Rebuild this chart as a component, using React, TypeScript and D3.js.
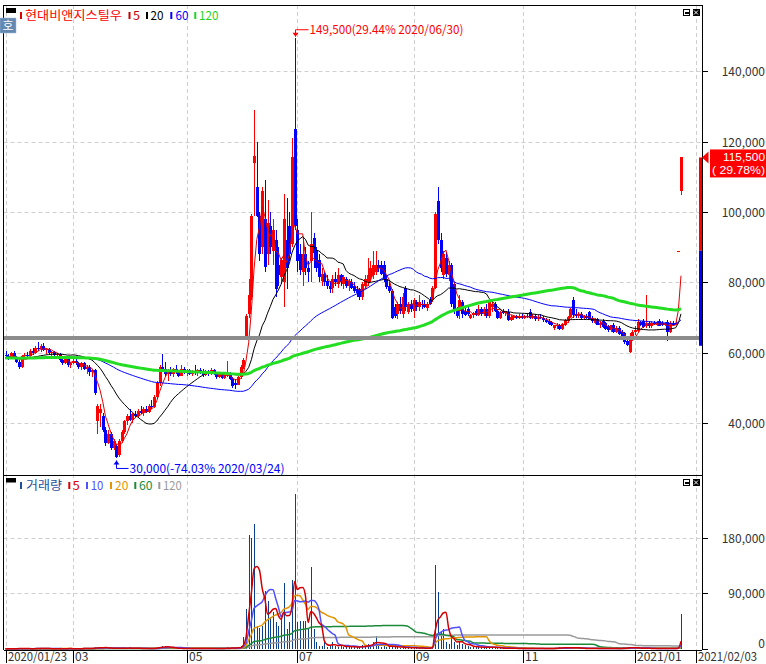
import React, { useEffect, useRef } from "react";
import * as d3 from "d3";

// daily candles 2020/01/23 .. 2021/02/03, prices in thousand won
const opens = [
  59.5, 59.0, 58.5, 60.0, 58.8, 57.5, 56.0, 59.0, 59.5, 59.2,
  60.5, 60.0, 61.5, 61.0, 62.0, 60.8, 61.2, 60.0, 60.2, 59.3,
  59.8, 58.0, 57.0, 58.2, 56.5, 57.2, 57.8, 57.0, 56.0, 57.0,
  55.5, 56.0, 54.5, 55.0, 40.5, 43.0, 42.0, 38.0, 34.5, 37.0,
  33.0, 33.5, 31.0, 35.0, 37.5, 40.5, 42.0, 41.0, 42.5, 42.0,
  43.5, 43.0, 44.0, 43.2, 45.0, 44.5, 47.5, 51.5, 56.0, 55.5,
  54.0, 55.0, 54.0, 55.3, 54.5, 53.5, 55.5, 54.3, 55.0, 54.0,
  54.8, 54.2, 55.2, 54.5, 53.6, 54.6, 54.0, 55.2, 54.0, 53.0,
  54.2, 52.8, 53.8, 54.2, 52.6, 51.5, 51.0, 53.0, 56.0, 64.5,
  71.0, 76.0, 114.0, 107.0, 99.0, 90.0, 98.0, 88.0, 96.0, 89.0,
  92.0, 85.0, 81.5, 80.0, 92.0, 96.0, 91.0, 123.5, 95.0, 88.0,
  83.0, 88.0, 84.0, 86.0, 92.5, 89.0, 86.5, 80.5, 82.5, 80.5,
  79.0, 78.5, 81.0, 79.5, 82.0, 79.5, 81.0, 79.0, 80.0, 79.0,
  78.0, 78.0, 76.0, 79.0, 80.0, 81.5, 82.0, 83.0, 85.0, 85.0,
  85.0, 81.0, 79.0, 77.5, 73.0, 71.0, 74.0, 71.0, 78.5, 71.5,
  74.0, 72.0, 74.5, 73.0, 74.0, 74.0, 72.8, 75.0, 75.0, 78.5,
  103.0, 92.0, 82.0, 87.0, 82.0, 85.0, 79.5, 72.0, 72.0, 74.5,
  72.0, 72.5, 70.0, 70.8, 72.0, 70.8, 72.5, 71.0, 72.5, 70.6,
  73.0, 74.0, 72.0, 70.0, 72.0, 71.3, 71.5, 69.3, 70.0, 70.5,
  69.8, 70.5, 70.0, 70.5, 71.5, 69.8, 70.6, 69.5, 70.3, 70.0,
  69.2, 69.0, 68.5, 67.0, 67.5, 68.0, 66.8, 68.0, 69.0, 70.3,
  75.0, 71.0, 70.5, 71.0, 69.8, 70.5, 71.5, 70.0, 68.5, 69.5,
  68.0, 69.0, 68.5, 67.5, 66.5, 68.0, 66.0, 67.0, 66.0, 65.5,
  63.5, 60.2, 64.0, 66.0, 66.3, 68.7, 69.0, 67.5, 68.5, 67.5,
  68.5, 68.0, 69.0, 68.5, 67.8, 68.7, 66.0, 68.5, 68.0, 89.0,
  106.0,
];
const highs = [
  60.5, 59.8, 60.3, 60.5, 59.2, 58.0, 59.5, 60.0, 60.2, 61.0,
  61.5, 62.0, 63.0, 62.5, 62.8, 61.5, 61.5, 60.5, 60.5, 60.0,
  60.0, 58.5, 58.8, 58.8, 57.5, 58.2, 58.5, 57.5, 57.5, 57.5,
  56.5, 56.5, 55.5, 55.5, 45.5, 45.5, 43.0, 39.0, 38.0, 37.5,
  35.5, 34.0, 35.5, 38.0, 41.0, 42.5, 44.0, 43.0, 43.5, 44.0,
  45.0, 44.5, 45.0, 45.5, 46.5, 48.0, 52.0, 56.5, 59.7, 57.5,
  55.5, 56.0, 55.8, 56.5, 55.0, 56.5, 56.0, 55.5, 55.5, 55.2,
  56.5, 55.5, 55.8, 55.3, 55.0, 55.2, 55.6, 55.5, 54.5, 54.5,
  54.6, 54.3, 57.8, 54.5, 53.0, 52.5, 53.5, 56.5, 58.5, 71.0,
  81.0, 99.5, 129.0, 120.0, 100.0, 107.0, 109.0, 103.5, 100.0, 98.0,
  95.0, 90.0, 87.0, 105.0, 104.0, 100.0, 121.0, 149.5, 98.0, 91.0,
  93.0, 90.0, 86.0, 100.0, 94.0, 90.0, 88.0, 84.0, 83.0, 82.0,
  80.5, 82.0, 83.0, 84.0, 82.5, 82.0, 81.5, 81.0, 81.0, 80.0,
  79.0, 78.5, 80.0, 82.0, 87.0, 86.0, 89.0, 89.0, 86.5, 86.0,
  86.0, 82.0, 80.0, 78.0, 74.0, 74.5, 76.0, 77.0, 79.0, 74.5,
  75.0, 75.5, 75.0, 76.5, 75.0, 75.0, 74.5, 76.0, 79.0, 100.0,
  107.0, 94.0, 89.0, 88.5, 86.0, 85.5, 80.0, 73.0, 76.5, 75.0,
  73.0, 73.5, 71.0, 71.5, 72.5, 73.5, 73.0, 73.0, 74.0, 75.0,
  75.0, 74.5, 72.5, 72.0, 72.5, 72.0, 72.5, 70.8, 70.8, 70.8,
  71.0, 71.0, 70.8, 71.0, 72.5, 71.0, 71.0, 70.8, 71.0, 70.5,
  69.8, 69.5, 69.0, 68.0, 68.5, 68.3, 68.5, 69.5, 70.5, 72.8,
  76.0, 72.5, 71.5, 71.5, 70.8, 71.0, 72.0, 70.5, 69.8, 70.0,
  69.0, 69.5, 68.8, 68.0, 68.0, 68.5, 67.5, 67.5, 66.5, 66.0,
  64.3, 65.5, 66.5, 67.5, 69.5, 69.0, 69.5, 76.3, 69.0, 69.0,
  69.0, 69.0, 69.5, 69.0, 68.8, 69.3, 69.0, 69.0, 69.0, 89.0,
  115.5,
];
const lows = [
  58.8, 58.0, 58.3, 58.5, 57.0, 55.5, 55.8, 58.2, 58.8, 59.0,
  59.5, 59.8, 60.5, 60.2, 60.5, 59.8, 59.5, 59.2, 59.0, 58.5,
  57.5, 56.5, 56.8, 56.0, 55.8, 56.8, 56.5, 55.5, 55.0, 55.0,
  54.0, 53.5, 53.0, 48.0, 37.0, 39.0, 37.5, 33.5, 34.0, 32.5,
  32.5, 30.0, 30.5, 34.5, 37.0, 39.5, 40.5, 40.0, 41.5, 41.5,
  42.5, 42.0, 42.8, 43.0, 44.0, 44.3, 47.0, 50.5, 54.5, 53.0,
  52.0, 53.5, 53.0, 54.0, 53.0, 53.3, 54.0, 53.5, 53.8, 53.5,
  53.8, 53.5, 54.0, 53.2, 53.3, 53.5, 53.8, 53.8, 52.5, 52.8,
  52.5, 52.5, 53.2, 52.3, 50.0, 49.8, 50.8, 52.5, 55.5, 64.0,
  70.0, 75.0, 99.0, 98.5, 86.0, 88.0, 83.0, 85.0, 88.0, 85.0,
  76.0, 79.0, 79.5, 73.0, 78.0, 86.0, 90.0, 95.0, 83.0, 82.0,
  79.0, 82.0, 80.0, 80.0, 84.0, 83.0, 80.0, 79.0, 79.0, 78.0,
  77.0, 77.0, 79.0, 78.5, 79.0, 78.0, 78.5, 77.5, 78.0, 77.0,
  76.0, 75.0, 75.0, 78.0, 79.0, 80.0, 81.0, 82.0, 83.0, 82.0,
  80.0, 78.0, 77.0, 69.5, 70.0, 69.5, 71.0, 70.0, 72.0, 71.0,
  71.5, 70.0, 72.0, 72.0, 72.5, 72.8, 72.0, 73.5, 74.5, 78.0,
  91.0, 83.0, 81.0, 81.5, 80.5, 73.0, 71.0, 70.0, 69.5, 70.0,
  70.5, 70.5, 69.5, 70.0, 70.5, 70.5, 70.5, 70.5, 70.0, 70.0,
  71.5, 71.5, 69.5, 69.5, 71.0, 70.5, 69.0, 69.0, 69.3, 69.5,
  69.5, 69.5, 69.5, 69.8, 69.5, 69.5, 69.0, 69.0, 69.5, 68.8,
  68.5, 68.0, 67.5, 66.5, 66.8, 66.5, 66.5, 67.5, 68.5, 70.0,
  70.0, 70.0, 69.8, 69.5, 69.5, 69.5, 69.5, 68.5, 68.3, 67.8,
  67.0, 67.0, 66.5, 66.0, 66.0, 65.5, 65.5, 65.0, 64.5, 62.5,
  61.8, 60.0, 63.5, 65.0, 66.0, 67.5, 67.0, 67.0, 67.0, 67.0,
  67.8, 67.5, 67.5, 67.5, 67.5, 63.5, 65.5, 67.5, 67.8, 89.0,
  104.7,
];
const closes = [
  59.0, 58.5, 60.0, 58.8, 57.5, 56.0, 59.0, 59.5, 59.2, 60.5,
  60.0, 61.5, 61.0, 62.0, 60.8, 61.2, 60.0, 60.2, 59.3, 59.8,
  58.0, 57.0, 58.2, 56.5, 57.2, 57.8, 57.0, 56.0, 57.0, 55.5,
  56.0, 54.5, 55.0, 48.5, 45.0, 44.0, 38.0, 34.5, 37.0, 33.0,
  35.0, 30.5, 35.0, 37.5, 40.5, 42.0, 41.0, 42.5, 42.0, 43.5,
  43.0, 44.0, 43.2, 45.0, 44.5, 47.5, 51.5, 56.0, 55.5, 54.0,
  55.0, 54.0, 55.3, 54.5, 53.5, 55.5, 54.3, 55.0, 54.0, 54.8,
  54.2, 55.2, 54.5, 53.6, 54.6, 54.0, 55.2, 54.0, 53.0, 54.2,
  52.8, 53.8, 54.2, 52.6, 50.5, 51.0, 53.2, 56.0, 58.0, 70.5,
  76.5, 99.0, 116.0, 99.0, 88.0, 106.0, 84.5, 97.0, 90.0, 95.0,
  78.0, 82.0, 86.5, 98.0, 84.0, 88.0, 115.5, 96.0, 86.0, 83.5,
  88.0, 84.0, 83.0, 91.0, 88.3, 84.0, 81.5, 82.5, 80.0, 79.0,
  78.0, 81.0, 80.0, 82.0, 80.0, 81.5, 79.0, 80.5, 78.5, 77.5,
  77.0, 75.8, 79.5, 81.0, 82.0, 84.0, 85.0, 85.0, 84.0, 82.5,
  81.0, 78.6, 77.5, 70.0, 70.5, 74.0, 72.0, 76.0, 73.0, 74.0,
  72.5, 75.0, 73.0, 74.5, 73.5, 73.0, 74.0, 74.0, 78.5, 99.5,
  92.0, 84.0, 88.0, 82.5, 85.0, 74.0, 72.0, 70.5, 75.0, 71.0,
  70.8, 71.0, 70.8, 71.3, 70.8, 72.5, 71.0, 72.5, 70.5, 74.4,
  74.0, 72.0, 70.0, 71.5, 71.3, 71.8, 69.3, 70.2, 70.5, 69.8,
  70.5, 70.0, 70.5, 70.2, 70.0, 70.6, 69.5, 70.3, 69.8, 69.2,
  68.8, 68.3, 67.8, 67.8, 68.0, 66.8, 68.3, 69.2, 70.3, 72.5,
  70.8, 70.5, 71.0, 69.8, 70.5, 69.8, 69.7, 69.0, 69.5, 68.0,
  68.5, 67.3, 66.8, 66.5, 67.8, 66.0, 67.0, 65.3, 64.8, 63.0,
  62.2, 64.0, 66.0, 66.5, 68.7, 68.0, 67.3, 68.5, 67.5, 68.5,
  68.2, 68.8, 67.7, 67.8, 68.5, 66.0, 68.5, 68.0, 68.5, 89.0,
  115.5,
];
// thousand shares
const volumes = [
  0.4, 0.6, 0.3, 0.5, 0.8, 1.0, 0.7, 0.5, 0.4, 0.6,
  0.5, 0.9, 1.2, 0.8, 0.6, 0.5, 0.4, 0.3, 0.5, 0.4,
  0.6, 0.7, 0.5, 0.8, 0.6, 0.4, 0.5, 0.7, 0.6, 0.9,
  0.8, 1.0, 0.7, 2.5, 3.5, 2.0, 1.5, 1.8, 1.2, 1.4,
  1.0, 1.6, 1.3, 1.0, 1.5, 1.2, 2.2, 0.9, 0.7, 0.8,
  0.6, 0.9, 0.5, 0.8, 0.7, 1.4, 2.5, 3.8, 5.0, 4.2,
  2.0, 1.5, 1.0, 0.8, 1.2, 0.9, 0.7, 0.6, 0.8, 0.5,
  0.9, 0.6, 0.5, 0.7, 0.6, 0.8, 0.5, 0.6, 0.7, 0.9,
  0.6, 1.0, 3.0, 1.2, 1.5, 1.8, 2.0, 4.5, 18.8, 64.8,
  183.7, 179.0, 201.5, 37.8, 33.4, 37.8, 94.0, 78.3, 51.2, 59.4,
  43.2, 37.8, 48.6, 107.0, 32.4, 44.3, 110.7, 250.0, 43.2, 45.9,
  45.9, 45.9, 32.4, 131.8, 32.4, 11.9, 5.4, 5.4, 10.8, 2.7,
  5.4, 10.8, 5.4, 2.7, 5.4, 4.0, 3.0, 4.5, 2.5, 3.5,
  3.0, 2.5, 6.0, 5.0, 8.0, 6.0, 10.8, 21.6, 6.0, 4.0,
  5.0, 3.5, 3.0, 6.5, 3.0, 2.5, 2.0, 3.0, 2.5, 2.0,
  1.5, 2.0, 1.5, 1.5, 1.2, 1.0, 1.2, 1.5, 4.5, 135.0,
  91.8, 27.0, 32.4, 10.8, 8.1, 21.6, 10.8, 6.0, 12.0, 8.0,
  6.0, 5.0, 3.0, 2.5, 4.0, 3.5, 2.5, 2.0, 3.0, 4.0,
  2.5, 2.0, 1.5, 1.2, 1.0, 1.2, 1.5, 1.0, 0.8, 0.9,
  0.7, 0.8, 0.6, 0.9, 1.0, 0.7, 0.8, 0.6, 0.7, 0.5,
  0.8, 0.6, 0.9, 1.5, 2.2, 2.5, 1.8, 1.2, 1.5, 2.5,
  3.5, 1.2, 0.8, 0.7, 0.6, 0.8, 1.0, 0.7, 0.6, 0.5,
  0.7, 0.8, 0.6, 0.5, 0.7, 0.9, 0.6, 0.8, 1.0, 2.0,
  2.5, 3.0, 1.5, 1.2, 1.0, 0.8, 0.7, 2.0, 0.8, 0.6,
  0.7, 0.5, 0.6, 0.8, 0.7, 1.5, 1.0, 0.8, 0.6, 3.0,
  56.7,
];

// levels before the first visible day (at the left edge)
const priorClose = 58.5;
const priorVolume = 0.5;

const priceMaPeriods = [5, 20, 60, 120];
const priceMaColors = ["#e00000", "#000000", "#0000ff", "#22dd22"];
const priceMaWidths = [1, 1, 1, 3];
const volMaPeriods = [5, 10, 20, 60, 120];
const volMaColors = ["#d40000", "#5050ff", "#e39400", "#1a8a3a", "#9a9a9a"];

const priceTicks = [40, 60, 80, 100, 120, 140];
const volumeTicks = [0, 90, 180];
const dateTicks = [
  { idx: 0, label: "2020/01/23" },
  { idx: 25, label: "03" },
  { idx: 67, label: "05" },
  { idx: 108, label: "07" },
  { idx: 151, label: "09" },
  { idx: 191.5, label: "11" },
  { idx: 233, label: "2021/01" },
  { idx: 255.5, label: "2021/02/03" },
];

const baseLevel = 64.2;
const maxMark = { idx: 107, value: 149.5, text: "149,500(29.44% 2020/06/30)" };
const minMark = { idx: 41, value: 30.0, text: "30,000(-74.03% 2020/03/24)" };
const lastPrice = { value: 115.5, text: "115,500", change: "( 29.78%)" };
const rangeBar = [115.5, 89.0, 62.0];

const priceLegend = [
  { label: "5", color: "#c80000", mx: 128.5, tx: 133, tl: 7 },
  { label: "20", color: "#000000", mx: 146, tx: 150.5, tl: 13 },
  { label: "60", color: "#0000ff", mx: 170.3, tx: 175.5, tl: 13 },
  { label: "120", color: "#1ed41e", mx: 194.3, tx: 199, tl: 19.5 },
];
const volumeLegend = [
  { label: "5", color: "#d40000", mx: 68.3, tx: 72.7, tl: 7 },
  { label: "10", color: "#5050ff", mx: 86, tx: 90.7, tl: 12.6 },
  { label: "20", color: "#e39400", mx: 110, tx: 115, tl: 13.3 },
  { label: "60", color: "#1a8a3a", mx: 134.3, tx: 139, tl: 13.6 },
  { label: "120", color: "#9a9a9a", mx: 158.3, tx: 163, tl: 18.7 },
];

const FONT = "'Noto Sans CJK KR', 'DejaVu Sans', sans-serif";
const NUM_FONT = "'Liberation Sans', 'DejaVu Sans', sans-serif";

function movingAverage(values: number[], period: number, prior: number) {
  return values.map((_, i) => {
    let sum = 0;
    for (let k = i - period + 1; k <= i; k++) sum += k < 0 ? prior : values[k];
    return sum / period;
  });
}

function StockChart() {
  // eslint-disable-next-line @typescript-eslint/no-explicit-any
  const svgRef: any = useRef();

  useEffect(() => {
    const svg = d3.select(svgRef.current);
    svg.selectAll("*").remove();

    const left = 3.5, right = 702, top = 5, mid = 475, bottom = 650;
    const x = d3.scaleLinear().domain([0, 250]).range([5.5, 681]);
    const yP = d3.scaleLinear().domain([25.3, 158.8]).range([475, 5]);
    const yV = d3.scaleLinear().domain([0, 281]).range([649, 475]);
    const fmt = d3.format(",");

    const defs = svg.append("defs");
    defs.append("clipPath").attr("id", "clipTop")
      .append("rect").attr("x", left).attr("y", top).attr("width", right - left).attr("height", mid - top);
    defs.append("clipPath").attr("id", "clipBot")
      .append("rect").attr("x", left).attr("y", mid).attr("width", right - left).attr("height", bottom - mid);

    svg.append("rect").attr("width", 766).attr("height", 664).attr("fill", "#fff");

    // grid
    const grid = svg.append("g").attr("stroke", "#cfcfcf").attr("stroke-dasharray", "4,3").attr("stroke-width", 1);
    dateTicks.forEach(t => {
      const gx = Math.round(x(t.idx)) + 0.5;
      grid.append("line").attr("x1", gx).attr("x2", gx).attr("y1", top).attr("y2", bottom);
    });
    priceTicks.forEach(v => {
      const gy = Math.round(yP(v)) + 0.5;
      grid.append("line").attr("x1", left).attr("x2", right).attr("y1", gy).attr("y2", gy);
    });
    volumeTicks.filter(v => v > 0).forEach(v => {
      const gy = Math.round(yV(v)) + 0.5;
      grid.append("line").attr("x1", left).attr("x2", right).attr("y1", gy).attr("y2", gy);
    });

    // candles
    const upper = svg.append("g").attr("clip-path", "url(#clipTop)");
    const candles = upper.append("g").attr("shape-rendering", "crispEdges");
    closes.forEach((c, i) => {
      const o = opens[i];
      const color = c >= o ? "#ff0000" : "#0000ff";
      const cx = Math.round(x(i));
      candles.append("rect")
        .attr("x", cx).attr("width", 1)
        .attr("y", yP(highs[i])).attr("height", Math.max(1, yP(lows[i]) - yP(highs[i])))
        .attr("fill", color);
      const y0 = yP(Math.max(o, c));
      const y1 = yP(Math.min(o, c));
      candles.append("rect")
        .attr("x", cx - 1).attr("width", 3)
        .attr("y", y0).attr("height", Math.max(1, y1 - y0))
        .attr("fill", color);
    });

    // moving averages
    priceMaPeriods.forEach((p, k) => {
      const ma = movingAverage(closes, p, priorClose);
      const line = d3.line<number>().x((_, i) => x(i)).y(d => yP(d));
      upper.append("path").attr("d", line(ma))
        .attr("fill", "none").attr("stroke", priceMaColors[k]).attr("stroke-width", priceMaWidths[k])
        .attr("stroke-linejoin", "round");
    });

    // base line
    upper.append("line").attr("x1", 0).attr("x2", right).attr("y1", yP(baseLevel)).attr("y2", yP(baseLevel))
      .attr("stroke", "#8c8c8c").attr("stroke-width", 4);

    // volume
    const lower = svg.append("g").attr("clip-path", "url(#clipBot)");
    const vbars = lower.append("g").attr("shape-rendering", "crispEdges");
    volumes.forEach((v, i) => {
      const h = yV(0) - yV(v);
      if (h < 0.5) return;
      vbars.append("rect").attr("x", Math.round(x(i))).attr("width", 1)
        .attr("y", yV(v)).attr("height", h).attr("fill", "#0b3f8f");
    });
    volMaPeriods.slice().reverse().forEach(p => {
      const k = volMaPeriods.indexOf(p);
      const ma = movingAverage(volumes, p, priorVolume);
      const line = d3.line<number>().x((_, i) => x(i)).y(d => yV(d)).curve(d3.curveMonotoneX);
      lower.append("path").attr("d", line(ma))
        .attr("fill", "none").attr("stroke", volMaColors[k]).attr("stroke-width", 1.5);
    });

    // frame
    const frame = svg.append("g").attr("stroke", "#000").attr("stroke-width", 1).attr("shape-rendering", "crispEdges");
    frame.append("line").attr("x1", left).attr("x2", right).attr("y1", top).attr("y2", top);
    frame.append("line").attr("x1", left).attr("x2", right).attr("y1", mid).attr("y2", mid);
    frame.append("line").attr("x1", left).attr("x2", right).attr("y1", bottom).attr("y2", bottom);
    frame.append("line").attr("x1", left).attr("x2", left).attr("y1", top).attr("y2", bottom);
    frame.append("line").attr("x1", right).attr("x2", right).attr("y1", top).attr("y2", bottom);

    // right axis
    const axisText = svg.append("g").attr("font-family", FONT).attr("font-size", 12).attr("fill", "#333")
      .attr("text-anchor", "end");
    priceTicks.forEach(v => {
      const ty = Math.round(yP(v)) + 0.5;
      frame.append("line").attr("x1", right).attr("x2", right + 6).attr("y1", ty).attr("y2", ty);
      axisText.append("text").attr("x", 765).attr("y", ty).attr("dy", "0.36em").text(fmt(v * 1000));
    });
    volumeTicks.forEach(v => {
      const ty = Math.round(yV(v)) + 0.5;
      frame.append("line").attr("x1", right).attr("x2", right + 6).attr("y1", ty).attr("y2", ty);
      axisText.append("text").attr("x", 765).attr("y", Math.min(ty, 644)).attr("dy", "0.36em").text(fmt(v * 1000));
    });

    // date axis
    const dateText = svg.append("g").attr("font-family", FONT).attr("font-size", 12).attr("fill", "#333");
    dateTicks.forEach(t => {
      const tx = Math.round(x(t.idx)) + 0.5;
      frame.append("line").attr("x1", tx).attr("x2", tx).attr("y1", bottom).attr("y2", 663);
      const txt = dateText.append("text").attr("x", tx + 1.5).attr("y", 661).text(t.label);
      if (t.label.length === 10) txt.attr("textLength", 59).attr("lengthAdjust", "spacingAndGlyphs");
    });

    // range bar at right edge
    svg.append("rect").attr("x", 699).attr("width", 3).attr("y", yP(rangeBar[0]))
      .attr("height", yP(rangeBar[1]) - yP(rangeBar[0])).attr("fill", "#ff0000");
    svg.append("rect").attr("x", 699).attr("width", 3).attr("y", yP(rangeBar[1]))
      .attr("height", yP(rangeBar[2]) - yP(rangeBar[1])).attr("fill", "#0000ff");

    // last price label
    const ly = yP(lastPrice.value);
    svg.append("path").attr("d", `M${right},${ly} L${right + 6.5},${ly - 6} L${right + 6.5},${ly + 6} Z`).attr("fill", "#ff0000");
    svg.append("rect").attr("x", 710).attr("y", ly - 8).attr("width", 56).attr("height", 28).attr("fill", "#ff0000");
    svg.append("text").attr("x", 765).attr("y", ly + 3.5).attr("text-anchor", "end").attr("font-family", NUM_FONT)
      .attr("font-size", 11.5).attr("fill", "#fff").attr("textLength", 42).attr("lengthAdjust", "spacingAndGlyphs")
      .text(lastPrice.text);
    svg.append("text").attr("x", 765).attr("y", ly + 17).attr("text-anchor", "end").attr("font-family", NUM_FONT)
      .attr("font-size", 11.5).attr("fill", "#fff").attr("textLength", 53).attr("lengthAdjust", "spacingAndGlyphs")
      .text(lastPrice.change);

    // max / min markers
    const mx = Math.round(x(maxMark.idx)) + 0.5;
    const mTip = yP(maxMark.value) - 1;
    svg.append("path").attr("d", `M${mx},${mTip - 7} L${mx},${mTip} M${mx},${mTip - 7} L${mx + 13},${mTip - 7}`)
      .attr("stroke", "#ff0000").attr("fill", "none");
    svg.append("path").attr("d", `M${mx - 3},${mTip - 4} L${mx + 3},${mTip - 4} L${mx},${mTip} Z`).attr("fill", "#ff0000");
    svg.append("text").attr("x", mx + 14).attr("y", mTip - 3).attr("font-family", FONT).attr("font-size", 12)
      .attr("fill", "#ff0000").attr("textLength", 154).attr("lengthAdjust", "spacingAndGlyphs").text(maxMark.text);

    const nx = Math.round(x(minMark.idx)) + 0.5;
    const nTip = yP(minMark.value) + 2;
    svg.append("path").attr("d", `M${nx},${nTip} L${nx},${nTip + 8} L${nx + 12},${nTip + 8}`)
      .attr("stroke", "#0000ff").attr("fill", "none");
    svg.append("path").attr("d", `M${nx - 3},${nTip + 4} L${nx + 3},${nTip + 4} L${nx},${nTip} Z`).attr("fill", "#0000ff");
    svg.append("text").attr("x", nx + 13).attr("y", nTip + 12.5).attr("font-family", FONT).attr("font-size", 12)
      .attr("fill", "#0000ff").attr("textLength", 155).attr("lengthAdjust", "spacingAndGlyphs").text(minMark.text);

    // legends
    const legend = svg.append("g").attr("font-family", FONT).attr("font-size", 12);
    legend.append("rect").attr("x", 6).attr("y", 8).attr("width", 10).attr("height", 5).attr("fill", "#000");
    legend.append("rect").attr("x", 20).attr("y", 12).attr("width", 2).attr("height", 7).attr("fill", "#e00000");
    legend.append("text").attr("x", 25).attr("y", 20).attr("fill", "#ff0000")
      .attr("textLength", 97).attr("lengthAdjust", "spacingAndGlyphs").text("현대비앤지스틸우");
    priceLegend.forEach(l => {
      legend.append("rect").attr("x", l.mx).attr("y", 12).attr("width", 2).attr("height", 7).attr("fill", l.color);
      legend.append("text").attr("x", l.tx).attr("y", 20).attr("fill", l.color)
        .attr("textLength", l.tl).attr("lengthAdjust", "spacingAndGlyphs").text(l.label);
    });

    legend.append("rect").attr("x", 6).attr("y", 478).attr("width", 10).attr("height", 4.5).attr("fill", "#000");
    legend.append("rect").attr("x", 20).attr("y", 482).attr("width", 2).attr("height", 7).attr("fill", "#1f4e9a");
    legend.append("text").attr("x", 26).attr("y", 489.5).attr("fill", "#1f4e9a")
      .attr("textLength", 36).attr("lengthAdjust", "spacingAndGlyphs").text("거래량");
    volumeLegend.forEach(l => {
      legend.append("rect").attr("x", l.mx).attr("y", 482).attr("width", 2).attr("height", 7).attr("fill", l.color);
      legend.append("text").attr("x", l.tx).attr("y", 489.5).attr("fill", l.color)
        .attr("textLength", l.tl).attr("lengthAdjust", "spacingAndGlyphs").text(l.label);
    });

    // "호" badge
    svg.append("rect").attr("x", 0).attr("y", 18).attr("width", 16).attr("height", 15)
      .attr("fill", "#6389b3").attr("stroke", "#9db8d6").attr("stroke-width", 0.5);
    svg.append("text").attr("x", 8).attr("y", 30).attr("text-anchor", "middle").attr("font-family", FONT)
      .attr("font-size", 12).attr("fill", "#fff").text("호");

    // window buttons
    [9.5, 479.5].forEach(by => {
      const b = svg.append("g").attr("shape-rendering", "crispEdges");
      b.append("rect").attr("x", 683.5).attr("y", by).attr("width", 6).attr("height", 6).attr("fill", "#fff").attr("stroke", "#000");
      b.append("rect").attr("x", 685).attr("y", by + 2).attr("width", 3.5).attr("height", 2.5).attr("fill", "#000");
      b.append("rect").attr("x", 692.5).attr("y", by - 0.5).attr("width", 7).attr("height", 7).attr("fill", "#000");
      b.append("path").attr("d", `M${694},${by + 1} L${698},${by + 5} M${698},${by + 1} L${694},${by + 5}`)
        .attr("stroke", "#fff").attr("stroke-width", 1).attr("shape-rendering", "auto");
    });
  }, []);

  return (
    <svg ref={svgRef} width={766} height={664}
      style={{ position: "absolute", left: 0, top: 0, display: "block" }} />
  );
}

export default function App() {
  return <StockChart />;
}
